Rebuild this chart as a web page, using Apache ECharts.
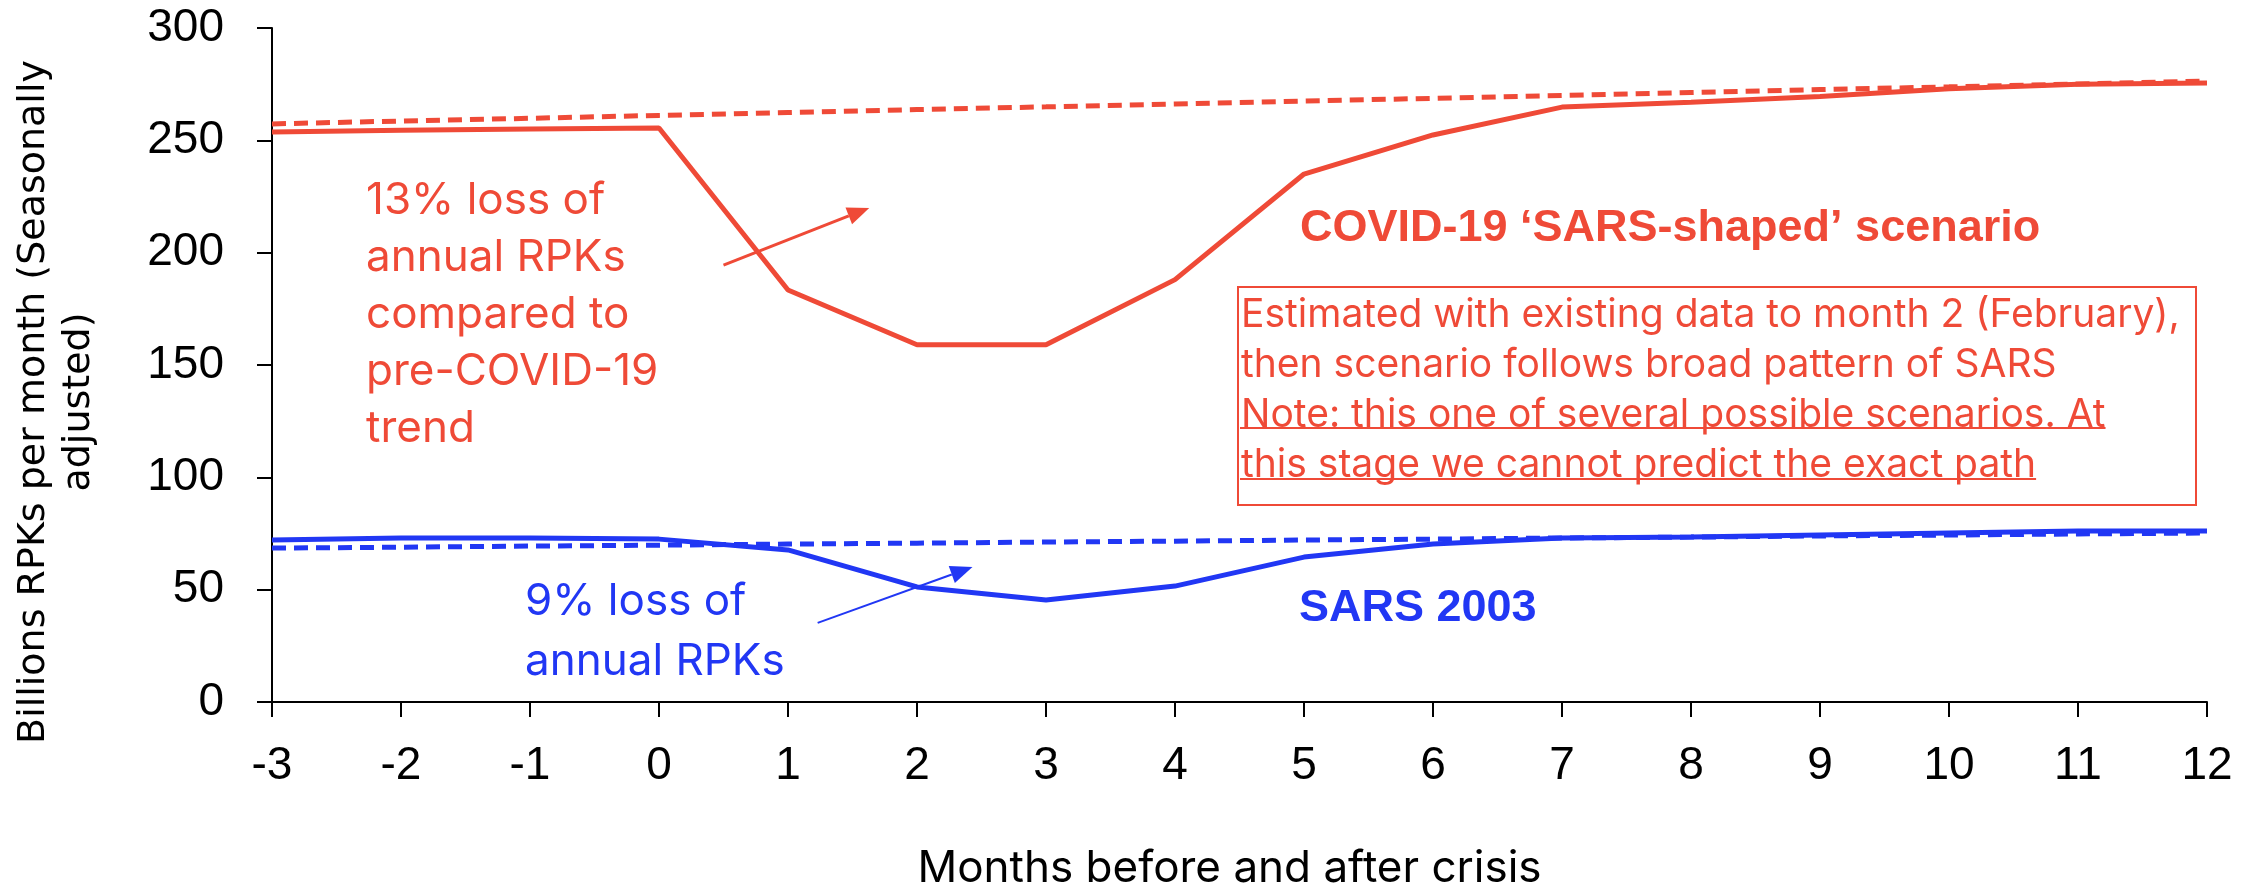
<!DOCTYPE html>
<html>
<head>
<meta charset="utf-8">
<script src="https://cdn.jsdelivr.net/npm/echarts@6/dist/echarts.min.js"></script>
<style>
  html, body { margin: 0; padding: 0; background: #fff; }
  #chart { width: 2253px; height: 887px; }
</style>
</head>
<body>
<div id="chart"></div>
<script>
// months before / after crisis
var months = [-3, -2, -1, 0, 1, 2, 3, 4, 5, 6, 7, 8, 9, 10, 11, 12];
// COVID-19 'SARS-shaped' scenario (billions RPKs)
var covid = [253.7, 254.5, 255.0, 255.5, 183.4, 159.0, 159.0, 188.0, 235.0, 252.4, 264.8, 267.0, 269.5, 273.0, 275.0, 275.5];
var covidTrend = [257.3, 258.6, 259.8, 261.1, 262.4, 263.7, 264.9, 266.2, 267.5, 268.7, 270.0, 271.3, 272.6, 273.8, 275.1, 276.4];
// SARS 2003
var sars = [72.1, 73.0, 73.0, 72.5, 67.7, 51.2, 45.4, 51.6, 64.5, 70.3, 73.0, 73.4, 74.3, 75.2, 76.1, 76.1];
var sarsTrend = [68.5, 68.9, 69.4, 69.8, 70.3, 70.7, 71.2, 71.6, 72.1, 72.5, 73.0, 73.4, 73.9, 74.3, 74.8, 75.2];
var yTicks = [0, 50, 100, 150, 200, 250, 300];

// arrows: [fromMonth, fromValue, toMonth, toValue]
var redArrow = [0.5, 194.5, 1.63, 219.9];
var blueArrow = [1.23, 35.2, 2.43, 60.1];

var RED = "#EF4A37";
var BLUE = "#2137F4";
var FONT = "Liberation Sans";

function pairs(vals) {
  return months.map(function (m, i) {
    return [m, vals[i]];
  });
}

var chart = echarts.init(document.getElementById("chart"));

var option = {
  animation: false,
  backgroundColor: "#fff",
  grid: { left: 272, right: 46, top: 28, bottom: 185, outerBoundsMode: "none" },
  xAxis: {
    type: "value",
    min: -3,
    max: 12,
    interval: 1,
    name: "Months before and after crisis",
    nameLocation: "middle",
    nameGap: 145,
    nameTextStyle: { fontFamily: "Inter", fontSize: 44, color: "#000", padding: [0, 20, 0, 0] },
    axisLine: { onZero: false, lineStyle: { color: "#000", width: 2 } },
    axisTick: { show: true, length: 15, lineStyle: { color: "#000", width: 2 } },
    axisLabel: { fontFamily: FONT, fontSize: 46, color: "#000", margin: 41 },
    splitLine: { show: false },
  },
  yAxis: {
    type: "value",
    min: yTicks[0],
    max: yTicks[yTicks.length - 1],
    interval: 50,
    axisLine: { show: true, onZero: false, lineStyle: { color: "#000", width: 2 } },
    axisTick: { show: true, length: 15, lineStyle: { color: "#000", width: 2 } },
    axisLabel: { fontFamily: FONT, fontSize: 46, color: "#000", margin: 48 },
    splitLine: { show: false },
  },
  series: [
    {
      name: "SARS 2003 trend",
      type: "line",
      data: pairs(sarsTrend),
      showSymbol: false,
      lineStyle: { color: BLUE, width: 5, type: [14, 8] },
      z: 2,
    },
    {
      name: "SARS 2003",
      type: "line",
      data: pairs(sars),
      showSymbol: false,
      lineStyle: { color: BLUE, width: 5 },
      z: 3,
    },
    {
      name: "COVID-19",
      type: "line",
      data: pairs(covid),
      showSymbol: false,
      lineStyle: { color: RED, width: 5 },
      z: 2,
    },
    {
      name: "COVID-19 trend",
      type: "line",
      data: pairs(covidTrend),
      showSymbol: false,
      lineStyle: { color: RED, width: 5, type: [14, 8] },
      z: 3,
    },
  ],
};

chart.setOption(option);

// arrow built from data coords
function arrow(a, color, width) {
  var p0 = chart.convertToPixel({ gridIndex: 0 }, [a[0], a[1]]);
  var p1 = chart.convertToPixel({ gridIndex: 0 }, [a[2], a[3]]);
  var ang = Math.atan2(p1[1] - p0[1], p1[0] - p0[0]);
  var len = 22, half = 9;
  var bx = p1[0] - len * Math.cos(ang), by = p1[1] - len * Math.sin(ang);
  var nx = -Math.sin(ang), ny = Math.cos(ang);
  return [
    {
      type: "line",
      shape: { x1: p0[0], y1: p0[1], x2: bx, y2: by },
      style: { stroke: color, lineWidth: width },
      z: 10,
    },
    {
      type: "polygon",
      shape: {
        points: [
          [p1[0], p1[1]],
          [bx + nx * half, by + ny * half],
          [bx - nx * half, by - ny * half],
        ],
      },
      style: { fill: color },
      z: 10,
    },
  ];
}

// underline width from canvas measure
var ctx = document.createElement("canvas").getContext("2d");
function textW(str, font) {
  ctx.font = font;
  return ctx.measureText(str).width;
}

var boxFont = "39px Inter";
var noteLine1 = "Note: this one of several possible scenarios. At";
var noteLine2 = "this stage we cannot predict the exact path";

var graphics = [
  {
    type: "text",
    x: 57,
    y: 402,
    rotation: Math.PI / 2,
    style: {
      text: "Billions RPKs per month (Seasonally\nadjusted)",
      font: "38px 'DejaVu Sans'",
      fill: "#000",
      align: "center",
      verticalAlign: "middle",
      lineHeight: 45,
    },
  },
  {
    type: "text",
    left: 366,
    top: 172,
    style: {
      text: "13% loss of\nannual RPKs\ncompared to\npre-COVID-19\ntrend",
      font: "44px Inter",
      fill: RED,
      lineHeight: 57,
    },
  },
  {
    type: "text",
    left: 525,
    top: 572,
    style: {
      text: "9% loss of\nannual RPKs",
      font: "44px Inter",
      fill: BLUE,
      lineHeight: 60,
    },
  },
  {
    type: "text",
    left: 1300,
    top: 206,
    style: {
      text: "COVID-19 \u2018SARS-shaped\u2019 scenario",
      font: "bold 45px 'Liberation Sans'",
      fill: RED,
    },
  },
  {
    type: "text",
    left: 1299,
    top: 586,
    style: {
      text: "SARS 2003",
      font: "bold 45px 'Liberation Sans'",
      fill: BLUE,
    },
  },
  {
    type: "rect",
    shape: { x: 1238, y: 287, width: 958, height: 218 },
    style: { fill: "none", stroke: RED, lineWidth: 2 },
  },
  {
    type: "text",
    left: 1241,
    top: 290,
    style: {
      text: "Estimated with existing data to month 2 (February),\nthen scenario follows broad pattern of SARS\n" + noteLine1 + "\n" + noteLine2,
      font: boxFont,
      fill: RED,
      lineHeight: 50,
    },
  },
  {
    type: "line",
    shape: { x1: 1240, y1: 428, x2: 1241 + textW(noteLine1, boxFont), y2: 428 },
    style: { stroke: RED, lineWidth: 2 },
  },
  {
    type: "line",
    shape: { x1: 1240, y1: 479, x2: 1241 + textW(noteLine2, boxFont), y2: 479 },
    style: { stroke: RED, lineWidth: 2 },
  },
];

graphics = graphics.concat(arrow(redArrow, RED, 3), arrow(blueArrow, BLUE, 2));

chart.setOption({ graphic: graphics });
</script>
</body>
</html>
